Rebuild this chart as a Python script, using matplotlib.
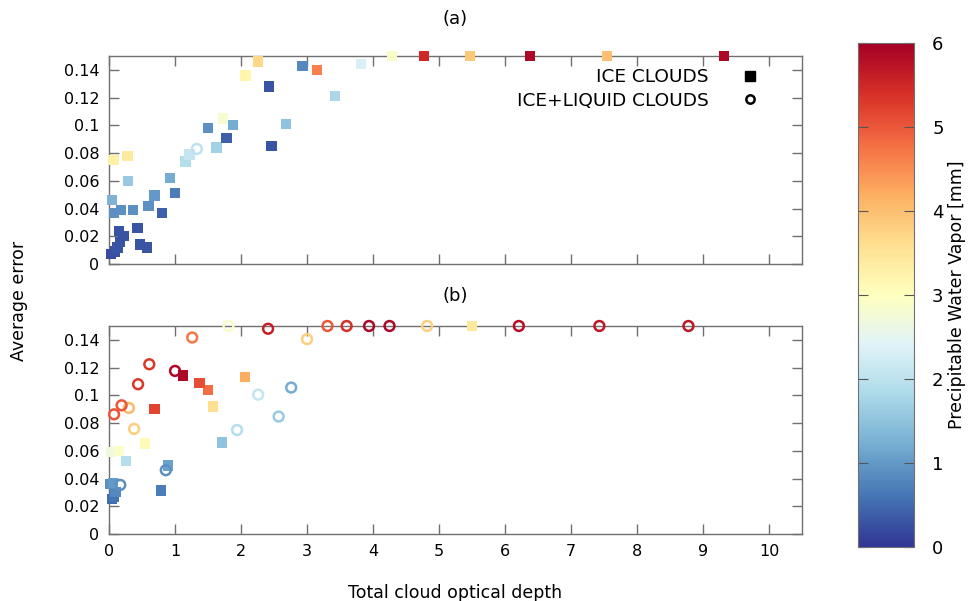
#!/usr/bin/env python3
"""Average error vs total cloud optical depth, coloured by PWV."""

import matplotlib
matplotlib.use("Agg")
import matplotlib.pyplot as plt
from matplotlib.lines import Line2D

# panel (a): ice clouds (squares)
a_ice_x = [0.03, 0.09, 0.13, 0.17, 0.22, 0.15, 0.43, 0.47, 0.58, 0.80, 0.60, 0.36,
           0.18, 0.08, 0.05, 1.00, 0.69, 0.92, 0.29, 0.28, 0.066, 1.16, 1.22, 1.63,
           2.46, 1.78, 2.68, 1.88, 1.50, 1.73, 2.42, 2.07, 2.26, 2.93, 3.15, 3.42,
           3.82, 4.29, 4.77, 5.47, 6.38, 7.55, 9.32]
a_ice_y = [0.007, 0.009, 0.012, 0.016, 0.020, 0.024, 0.026, 0.014, 0.012, 0.037, 0.042, 0.039,
           0.039, 0.037, 0.046, 0.051, 0.0495, 0.062, 0.060, 0.078, 0.075, 0.074, 0.079, 0.084,
           0.085, 0.091, 0.101, 0.100, 0.098, 0.105, 0.128, 0.136, 0.146, 0.143, 0.140, 0.121,
           0.144, 0.15, 0.15, 0.15, 0.15, 0.15, 0.15]
a_ice_pwv = [0.2, 0.25, 0.3, 0.3, 0.3, 0.3, 0.3, 0.3, 0.3, 0.4, 0.9, 0.9,
             0.9, 0.9, 1.3, 0.7, 1.0, 1.2, 1.6, 3.4, 3.3, 1.9, 2.1, 1.7,
             0.3, 0.4, 1.5, 1.2, 0.9, 2.8, 0.3, 3.2, 3.7, 0.8, 4.6, 1.8,
             2.3, 2.9, 5.5, 3.9, 5.9, 4.0, 5.9]

# panel (a): ice+liquid clouds (circles)
a_mix_x = [1.33]
a_mix_y = [0.083]
a_mix_pwv = [2.0]

# panel (b): ice clouds (squares)
b_ice_x = [0.04, 0.07, 0.10, 0.02, 0.056, 0.79, 0.89, 1.71, 0.26, 0.03, 0.15, 0.54,
           0.69, 1.58, 2.06, 1.50, 1.37, 1.12, 5.50]
b_ice_y = [0.025, 0.027, 0.0305, 0.036, 0.0368, 0.0313, 0.0493, 0.066, 0.0527, 0.059, 0.060, 0.0652,
           0.090, 0.092, 0.113, 0.104, 0.109, 0.1142, 0.15]
b_ice_pwv = [0.5, 0.6, 0.8, 0.9, 1.0, 0.7, 1.1, 1.5, 1.9, 2.7, 2.9, 3.1,
             5.2, 3.6, 4.2, 4.8, 5.1, 5.9, 3.4]

# panel (b): ice+liquid clouds (circles)
b_mix_x = [0.17, 0.86, 1.94, 2.57, 2.26, 2.76, 0.38, 0.076, 0.30, 0.19, 0.44, 0.61,
           1.00, 1.26, 1.81, 2.41, 3.00, 3.31, 3.60, 3.94, 4.25, 4.82, 6.21, 7.43, 8.78]
b_mix_y = [0.0354, 0.046, 0.075, 0.0847, 0.1005, 0.1056, 0.0758, 0.0863, 0.0909, 0.0928, 0.108, 0.1224,
           0.1176, 0.1417, 0.15, 0.148, 0.1405, 0.15, 0.15, 0.15, 0.15, 0.15, 0.15, 0.15, 0.15]
b_mix_pwv = [0.9, 0.9, 1.9, 1.6, 2.1, 1.2, 3.8, 5.0, 4.1, 5.0, 5.3, 5.3,
             5.9, 4.7, 2.9, 5.6, 3.8, 5.0, 5.4, 5.9, 5.9, 3.8, 5.8, 5.7, 5.7]

xticks = list(range(0, 11))
yticks = [0, 0.02, 0.04, 0.06, 0.08, 0.1, 0.12, 0.14]
ytick_labels = ["0", "0.02", "0.04", "0.06", "0.08", "0.1", "0.12", "0.14"]
cbar_ticks = [0, 1, 2, 3, 4, 5, 6]

plt.rcParams["font.family"] = "DejaVu Sans"
plt.rcParams["font.size"] = 11.5

cmap = plt.get_cmap("RdYlBu_r")
edge = "#707070"

fig = plt.figure(figsize=(9.78, 6.01), dpi=100)
ax_a = fig.add_axes([0.1115, 0.5607, 0.7085, 0.3461])
ax_b = fig.add_axes([0.1115, 0.1115, 0.7085, 0.3461])
cax = fig.add_axes([0.877, 0.0899, 0.0576, 0.8386])


def style_axis(ax, show_xlabels):
    ax.set_xlim(0, 10.5)
    ax.set_ylim(0, 0.15)
    ax.set_xticks(xticks)
    ax.set_yticks(yticks)
    ax.set_yticklabels(ytick_labels)
    if not show_xlabels:
        ax.set_xticklabels([])
    ax.tick_params(direction="in", length=7, width=1, color=edge,
                   top=True, right=True, pad=7)
    for s in ax.spines.values():
        s.set_color(edge)
        s.set_linewidth(1)


def draw(ax, sx, sy, sc, cx, cy, cc):
    sq = ax.scatter(sx, sy, c=sc, cmap=cmap, vmin=0, vmax=6, marker="s",
                    s=55, linewidths=0, zorder=3, clip_on=False)
    ax.scatter(cx, cy, c="none", edgecolors=cmap([v / 6 for v in cc]), marker="o",
               s=50, linewidths=1.8, zorder=3, clip_on=False)
    return sq


sq = draw(ax_a, a_ice_x, a_ice_y, a_ice_pwv, a_mix_x, a_mix_y, a_mix_pwv)
draw(ax_b, b_ice_x, b_ice_y, b_ice_pwv, b_mix_x, b_mix_y, b_mix_pwv)

style_axis(ax_a, False)
style_axis(ax_b, True)

ax_a.set_title("(a)", fontsize=13, pad=23)
ax_b.set_title("(b)", fontsize=13, pad=18)
ax_b.set_xlabel("Total cloud optical depth", fontsize=12.5, labelpad=18)
fig.text(0.019, 0.5, "Average error", rotation=90, va="center", ha="center", fontsize=12.5)

handles = [
    Line2D([], [], marker="s", color="black", linestyle="none", markersize=7),
    Line2D([], [], marker="o", markerfacecolor="none", markeredgecolor="black",
           markeredgewidth=1.8, linestyle="none", markersize=6),
]
ax_a.legend(handles, ["ICE CLOUDS", "ICE+LIQUID CLOUDS"], loc="upper right",
            bbox_to_anchor=(0.963, 0.978), frameon=False, markerfirst=False,
            fontsize=13.3, handletextpad=1.25, labelspacing=0.3, borderaxespad=0)

cb = fig.colorbar(sq, cax=cax)
cb.set_ticks(cbar_ticks)
cb.outline.set_edgecolor(edge)
cb.ax.tick_params(direction="in", length=7, color="#555555", pad=13, labelsize=13)
cb.ax.yaxis.set_ticks_position("both")
cb.ax.tick_params(labelleft=False, labelright=True)
cb.set_label("Precipitable Water Vapor [mm]", fontsize=12.5, labelpad=3)

fig.savefig("out.png", dpi=100, facecolor="white")
